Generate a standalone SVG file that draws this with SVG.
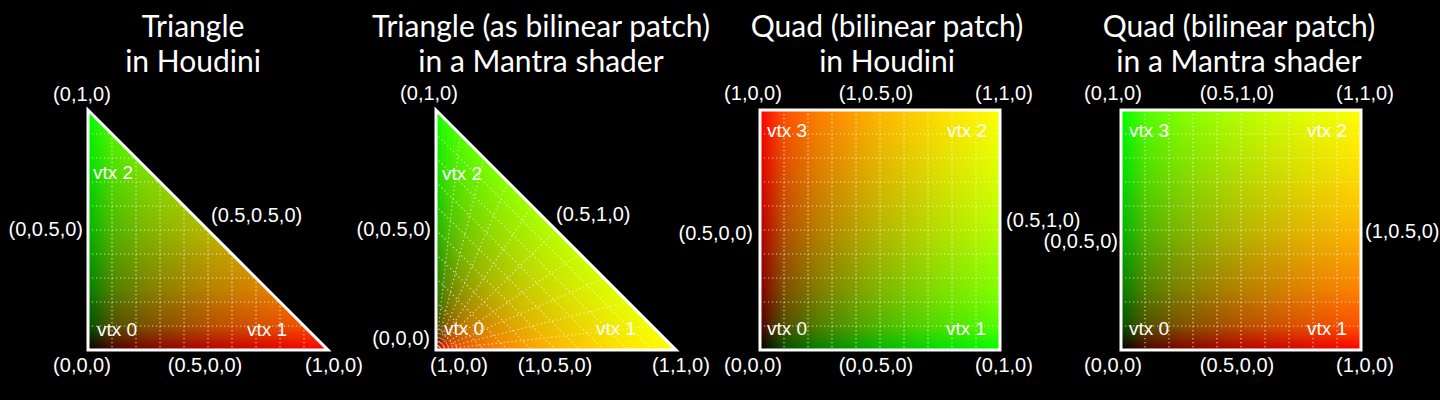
<svg xmlns="http://www.w3.org/2000/svg" width="1440" height="400" viewBox="0 0 1440 400">
<style>
.title{font-family:Lato,"Open Sans",sans-serif;font-size:30px;fill:#fff;text-anchor:middle}
.lbl{font-family:"Liberation Sans",Arial,sans-serif;font-size:20px;fill:#fff}
.vtx{font-family:"Liberation Sans",Arial,sans-serif;font-size:19px;fill:#fff}
.m{text-anchor:middle}
.e{text-anchor:end}
.grid{fill:none;stroke:#fff;stroke-opacity:.7;stroke-width:1.2;stroke-dasharray:1.2 2.8}
.outline{fill:none;stroke:#fff;stroke-width:3}
.scr{mix-blend-mode:screen}
.iso{isolation:isolate}
</style>
<defs>
<linearGradient id="rampR" x1="0" y1="0" x2="1" y2="0">
<stop offset="0" stop-color="#000"/><stop offset=".1" stop-color="#500000"/><stop offset=".25" stop-color="#800000"/><stop offset=".5" stop-color="#b60000"/><stop offset=".75" stop-color="#de0000"/><stop offset="1" stop-color="#f00"/>
</linearGradient>
<linearGradient id="rampG" x1="0" y1="0" x2="1" y2="0">
<stop offset="0" stop-color="#000"/><stop offset=".1" stop-color="#005000"/><stop offset=".25" stop-color="#008000"/><stop offset=".5" stop-color="#00b600"/><stop offset=".75" stop-color="#00de00"/><stop offset="1" stop-color="#0f0"/>
</linearGradient>
<linearGradient id="g1r" href="#rampR" gradientUnits="userSpaceOnUse" x1="88" y1="0" x2="328" y2="0"/>
<linearGradient id="g1g" href="#rampG" gradientUnits="userSpaceOnUse" x1="0" y1="350" x2="0" y2="110"/>
<linearGradient id="g2g" href="#rampG" gradientUnits="userSpaceOnUse" x1="436" y1="350" x2="556" y2="230"/>
<linearGradient id="g3r" href="#rampR" gradientUnits="userSpaceOnUse" x1="0" y1="350" x2="0" y2="110"/>
<linearGradient id="g3g" href="#rampG" gradientUnits="userSpaceOnUse" x1="760" y1="0" x2="1000" y2="0"/>
<linearGradient id="g4r" href="#rampR" gradientUnits="userSpaceOnUse" x1="1121" y1="0" x2="1361" y2="0"/>
<linearGradient id="g4g" href="#rampG" gradientUnits="userSpaceOnUse" x1="0" y1="350" x2="0" y2="110"/>
<clipPath id="c1"><polygon points="88,110 88,350 328,350"/></clipPath>
<clipPath id="c2"><polygon points="436,110 436,350 676,350"/></clipPath>
<clipPath id="c3"><rect x="760" y="110" width="240" height="240"/></clipPath>
<clipPath id="c4"><rect x="1121" y="110" width="240" height="240"/></clipPath>
</defs>
<rect width="1440" height="400" fill="#000"/>

<g id="panel1">
<text class="title" x="193" y="37">Triangle</text>
<text class="title" x="193" y="72">in Houdini</text>
<g class="iso" clip-path="url(#c1)">
<rect x="88" y="110" width="240" height="240" fill="url(#g1r)"/>
<rect class="scr" x="88" y="110" width="240" height="240" fill="url(#g1g)"/>
</g>
<path class="grid" clip-path="url(#c1)" d="M112,110V350M136,110V350M160,110V350M184,110V350M208,110V350M232,110V350M256,110V350M280,110V350M304,110V350M88,134H328M88,158H328M88,182H328M88,206H328M88,230H328M88,254H328M88,278H328M88,302H328M88,326H328"/>
<polygon class="outline" points="88,110 88,350 328,350"/>
<text class="lbl m" x="82" y="101">(0,1,0)</text>
<text class="lbl e" x="83" y="236">(0,0.5,0)</text>
<text class="lbl" x="211" y="222">(0.5,0.5,0)</text>
<text class="vtx" x="93" y="179">vtx 2</text>
<text class="vtx" x="97" y="336">vtx 0</text>
<text class="vtx" x="247" y="336">vtx 1</text>
<text class="lbl m" x="82" y="372">(0,0,0)</text>
<text class="lbl m" x="205" y="372">(0.5,0,0)</text>
<text class="lbl m" x="334" y="372">(1,0,0)</text>
</g>

<g id="panel2">
<text class="title" x="541" y="37">Triangle (as bilinear patch)</text>
<text class="title" x="541" y="72">in a Mantra shader</text>
<g class="iso" clip-path="url(#c2)">
<g id="wedges">
<polygon points="436,350 436,110 676,350" fill="#1a0000"/>
<polygon points="436,350 442,116 676,350" fill="#2f0000"/>
<polygon points="436,350 448,122 676,350" fill="#3e0000"/>
<polygon points="436,350 454,128 676,350" fill="#4a0000"/>
<polygon points="436,350 460,134 676,350" fill="#540000"/>
<polygon points="436,350 466,140 676,350" fill="#5d0000"/>
<polygon points="436,350 472,146 676,350" fill="#660000"/>
<polygon points="436,350 478,152 676,350" fill="#6e0000"/>
<polygon points="436,350 484,158 676,350" fill="#750000"/>
<polygon points="436,350 490,164 676,350" fill="#7c0000"/>
<polygon points="436,350 496,170 676,350" fill="#830000"/>
<polygon points="436,350 502,176 676,350" fill="#890000"/>
<polygon points="436,350 508,182 676,350" fill="#8f0000"/>
<polygon points="436,350 514,188 676,350" fill="#950000"/>
<polygon points="436,350 520,194 676,350" fill="#9a0000"/>
<polygon points="436,350 526,200 676,350" fill="#a00000"/>
<polygon points="436,350 532,206 676,350" fill="#a50000"/>
<polygon points="436,350 538,212 676,350" fill="#aa0000"/>
<polygon points="436,350 544,218 676,350" fill="#af0000"/>
<polygon points="436,350 550,224 676,350" fill="#b40000"/>
<polygon points="436,350 556,230 676,350" fill="#b80000"/>
<polygon points="436,350 562,236 676,350" fill="#bd0000"/>
<polygon points="436,350 568,242 676,350" fill="#c10000"/>
<polygon points="436,350 574,248 676,350" fill="#c50000"/>
<polygon points="436,350 580,254 676,350" fill="#c90000"/>
<polygon points="436,350 586,260 676,350" fill="#cd0000"/>
<polygon points="436,350 592,266 676,350" fill="#d10000"/>
<polygon points="436,350 598,272 676,350" fill="#d50000"/>
<polygon points="436,350 604,278 676,350" fill="#d90000"/>
<polygon points="436,350 610,284 676,350" fill="#dc0000"/>
<polygon points="436,350 616,290 676,350" fill="#e00000"/>
<polygon points="436,350 622,296 676,350" fill="#e30000"/>
<polygon points="436,350 628,302 676,350" fill="#e70000"/>
<polygon points="436,350 634,308 676,350" fill="#ea0000"/>
<polygon points="436,350 640,314 676,350" fill="#ee0000"/>
<polygon points="436,350 646,320 676,350" fill="#f10000"/>
<polygon points="436,350 652,326 676,350" fill="#f40000"/>
<polygon points="436,350 658,332 676,350" fill="#f70000"/>
<polygon points="436,350 664,338 676,350" fill="#fb0000"/>
<polygon points="436,350 670,344 676,350" fill="#fe0000"/>
</g>
<rect class="scr" x="436" y="110" width="240" height="240" fill="url(#g2g)"/>
</g>
<path class="grid" clip-path="url(#c2)" d="M436,350L460,134M436,350L484,158M436,350L508,182M436,350L532,206M436,350L556,230M436,350L580,254M436,350L604,278M436,350L628,302M436,350L652,326M436,326L460,350M436,302L484,350M436,278L508,350M436,254L532,350M436,230L556,350M436,206L580,350M436,182L604,350M436,158L628,350M436,134L652,350"/>
<polygon class="outline" points="436,110 436,350 676,350"/>
<text class="lbl m" x="429" y="100">(0,1,0)</text>
<text class="lbl e" x="431" y="236">(0,0.5,0)</text>
<text class="lbl" x="556" y="221">(0.5,1,0)</text>
<text class="vtx" x="442" y="180">vtx 2</text>
<text class="vtx" x="444" y="335">vtx 0</text>
<text class="vtx" x="596" y="335">vtx 1</text>
<text class="lbl e" x="430" y="345">(0,0,0)</text>
<text class="lbl m" x="459" y="372">(1,0,0)</text>
<text class="lbl m" x="555" y="372">(1,0.5,0)</text>
<text class="lbl m" x="681" y="372">(1,1,0)</text>
</g>

<g id="panel3">
<text class="title" x="887" y="37">Quad (bilinear patch)</text>
<text class="title" x="887" y="72">in Houdini</text>
<g class="iso" clip-path="url(#c3)">
<rect x="760" y="110" width="240" height="240" fill="url(#g3r)"/>
<rect class="scr" x="760" y="110" width="240" height="240" fill="url(#g3g)"/>
</g>
<path class="grid" d="M784,110V350M808,110V350M832,110V350M856,110V350M880,110V350M904,110V350M928,110V350M952,110V350M976,110V350M760,134H1000M760,158H1000M760,182H1000M760,206H1000M760,230H1000M760,254H1000M760,278H1000M760,302H1000M760,326H1000"/>
<rect class="outline" x="760" y="110" width="240" height="240"/>
<text class="lbl m" x="753" y="100">(1,0,0)</text>
<text class="lbl m" x="876" y="100">(1,0.5,0)</text>
<text class="lbl m" x="1004" y="100">(1,1,0)</text>
<text class="vtx" x="767" y="137">vtx 3</text>
<text class="vtx e" x="987" y="137">vtx 2</text>
<text class="lbl e" x="753" y="240">(0.5,0,0)</text>
<text class="lbl" x="1006" y="227">(0.5,1,0)</text>
<text class="vtx" x="767" y="335">vtx 0</text>
<text class="vtx e" x="986" y="335">vtx 1</text>
<text class="lbl m" x="753" y="372">(0,0,0)</text>
<text class="lbl m" x="876" y="372">(0,0.5,0)</text>
<text class="lbl m" x="1004" y="372">(0,1,0)</text>
</g>

<g id="panel4">
<text class="title" x="1239" y="37">Quad (bilinear patch)</text>
<text class="title" x="1239" y="72">in a Mantra shader</text>
<g class="iso" clip-path="url(#c4)">
<rect x="1121" y="110" width="240" height="240" fill="url(#g4r)"/>
<rect class="scr" x="1121" y="110" width="240" height="240" fill="url(#g4g)"/>
</g>
<path class="grid" d="M1145,110V350M1169,110V350M1193,110V350M1217,110V350M1241,110V350M1265,110V350M1289,110V350M1313,110V350M1337,110V350M1121,134H1361M1121,158H1361M1121,182H1361M1121,206H1361M1121,230H1361M1121,254H1361M1121,278H1361M1121,302H1361M1121,326H1361"/>
<rect class="outline" x="1121" y="110" width="240" height="240"/>
<text class="lbl m" x="1113" y="100">(0,1,0)</text>
<text class="lbl m" x="1237" y="100">(0.5,1,0)</text>
<text class="lbl m" x="1365" y="100">(1,1,0)</text>
<text class="vtx" x="1129" y="137">vtx 3</text>
<text class="vtx e" x="1347" y="137">vtx 2</text>
<text class="lbl e" x="1118" y="248">(0,0.5,0)</text>
<text class="lbl" x="1365" y="238">(1,0.5,0)</text>
<text class="vtx" x="1129" y="335">vtx 0</text>
<text class="vtx e" x="1347" y="335">vtx 1</text>
<text class="lbl m" x="1113" y="372">(0,0,0)</text>
<text class="lbl m" x="1237" y="372">(0.5,0,0)</text>
<text class="lbl m" x="1365" y="372">(1,0,0)</text>
</g>
</svg>
